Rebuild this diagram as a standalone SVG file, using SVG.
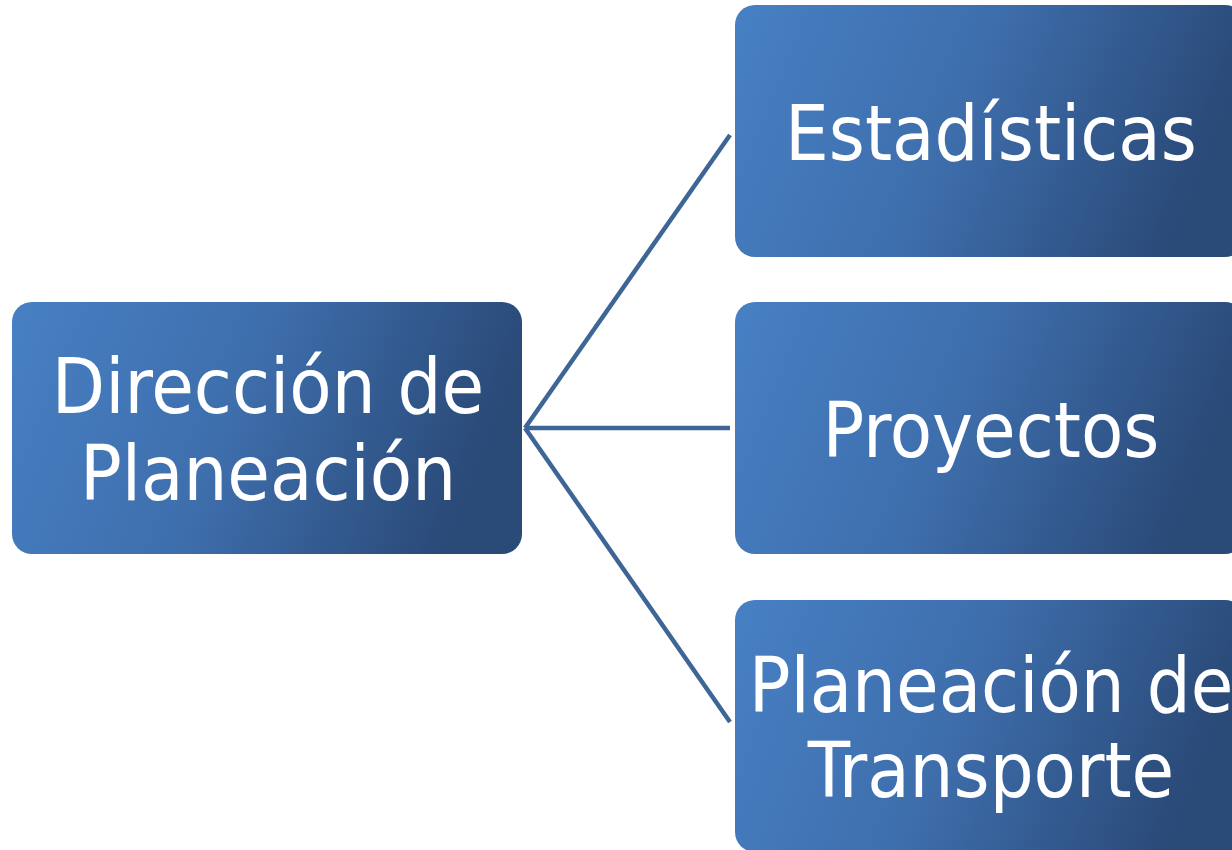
<svg xmlns="http://www.w3.org/2000/svg" width="1232" height="850" viewBox="0 0 1232 850">
  <defs>
    <linearGradient id="g" x1="0" y1="0" x2="1" y2="0.2">
      <stop offset="0" stop-color="#4780c4"/>
      <stop offset="0.5" stop-color="#3e6eac"/>
      <stop offset="1" stop-color="#2a4a78"/>
    </linearGradient>
  </defs>
  <style>
    .box { fill: url(#g); }
    .lbl { fill: #ffffff; font-family: "DejaVu Sans Condensed", "DejaVu Sans", sans-serif; font-stretch: condensed; font-size: 77px; text-anchor: middle; }
    .con { stroke: #3d6596; stroke-width: 4.5; fill: none; }
  </style>
  <rect width="1232" height="850" fill="#ffffff"/>
  <g id="connectors">
    <line class="con" x1="525" y1="428" x2="730" y2="135"/>
    <line class="con" x1="525" y1="428" x2="730" y2="428"/>
    <line class="con" x1="525" y1="428" x2="730" y2="722"/>
  </g>
  <g id="node-direccion">
    <rect class="box" x="12" y="302" width="510" height="252" rx="20"/>
    <text class="lbl" x="268" y="413">Dirección de</text>
    <text class="lbl" x="268" y="500">Planeación</text>
  </g>
  <g id="node-estadisticas">
    <rect class="box" x="735" y="5" width="510" height="252" rx="20"/>
    <text class="lbl" x="991" y="160">Estadísticas</text>
  </g>
  <g id="node-proyectos">
    <rect class="box" x="735" y="302" width="510" height="252" rx="20"/>
    <text class="lbl" x="991" y="457">Proyectos</text>
  </g>
  <g id="node-planeacion-transporte">
    <rect class="box" x="735" y="600" width="510" height="252" rx="20"/>
    <text class="lbl" x="991" y="712">Planeación de</text>
    <text class="lbl" x="991" y="797">Transporte</text>
  </g>
</svg>
